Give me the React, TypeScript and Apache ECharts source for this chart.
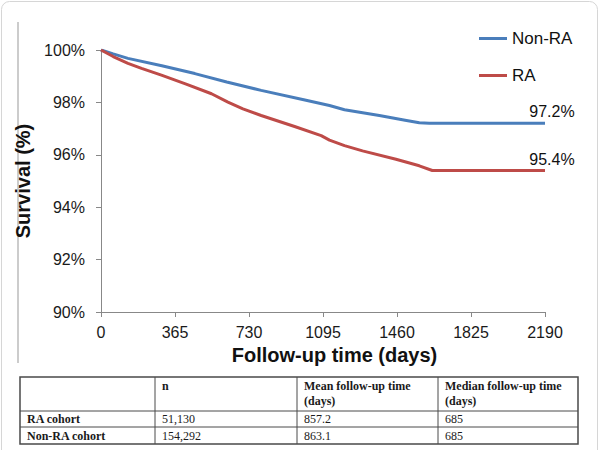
import { useEffect, useRef } from "react";
import * as echarts from "echarts";

// ---- data ----
const xTicks = [0, 365, 730, 1095, 1460, 1825, 2190];
const yRange = [90, 100];
const nonRaDays = [0, 60, 133, 300, 463, 620, 790, 1000, 1127, 1201, 1373, 1500, 1570, 1619, 2190];
const nonRaSurvival = [100, 99.85, 99.68, 99.4, 99.1, 98.78, 98.46, 98.1, 97.88, 97.72, 97.5, 97.32, 97.22, 97.2, 97.2];
const raDays = [0, 60, 133, 200, 298, 420, 545, 626, 700, 790, 955, 1086, 1127, 1201, 1290, 1455, 1570, 1634, 2190];
const raSurvival = [100, 99.75, 99.49, 99.3, 99.04, 98.7, 98.33, 98.01, 97.75, 97.5, 97.08, 96.73, 96.56, 96.35, 96.15, 95.83, 95.58, 95.4, 95.4];

const tableHeader = ["", "n", "Mean follow-up time\n(days)", "Median follow-up time\n(days)"];
const tableRowLabels = ["RA cohort", "Non-RA cohort"];
const tableN = ["51,130", "154,292"];
const tableMean = ["857.2", "863.1"];
const tableMedian = ["685", "685"];

// ---- layout ----
const GRID = { left: 101, top: 50, width: 444, height: 262 };
const colX = [20, 155, 297, 438, 578];
const rowY = [377, 411, 427, 444];
const SANS = "'Liberation Sans', Arial, sans-serif";
const SERIF = "'Liberation Serif', 'Times New Roman', serif";

function buildTable(): any[] {
  const els: any[] = [];
  const stroke = "#4a4a4a";
  els.push({
    type: "rect",
    shape: { x: colX[0], y: rowY[0], width: colX[4] - colX[0], height: rowY[3] - rowY[0] },
    style: { fill: "#fff", stroke, lineWidth: 1.5 },
  });
  for (let i = 1; i < colX.length - 1; i++) {
    els.push({ type: "line", shape: { x1: colX[i], y1: rowY[0], x2: colX[i], y2: rowY[3] }, style: { stroke, lineWidth: 1 } });
  }
  for (let j = 1; j < rowY.length - 1; j++) {
    els.push({ type: "line", shape: { x1: colX[0], y1: rowY[j], x2: colX[4], y2: rowY[j] }, style: { stroke, lineWidth: 1 } });
  }
  tableHeader.forEach((h, i) => {
    if (!h) return;
    els.push({
      type: "text",
      x: colX[i] + 7,
      y: rowY[0] + 1,
      style: { text: h, font: `bold 12px ${SERIF}`, fill: "#1a1a1a", verticalAlign: "top", lineHeight: 15 },
    });
  });
  const cols = [tableRowLabels, tableN, tableMean, tableMedian];
  for (let r = 0; r < tableRowLabels.length; r++) {
    const yc = (rowY[r + 1] + rowY[r + 2]) / 2;
    cols.forEach((col, c) => {
      els.push({
        type: "text",
        x: colX[c] + 7,
        y: yc,
        style: {
          text: col[r],
          font: `${c === 0 ? "bold " : ""}12px ${SERIF}`,
          fill: "#1a1a1a",
          verticalAlign: "middle",
        },
      });
    });
  }
  return els;
}

function endLabel(days: number[], vals: number[]) {
  const last = vals.length - 1;
  return {
    symbol: "circle",
    symbolSize: 1,
    itemStyle: { color: "rgba(0,0,0,0)" },
    label: {
      show: true,
      position: "top",
      formatter: "{c}%",
      fontSize: 16,
      fontFamily: SANS,
      color: "#111",
      offset: [7, 2],
    },
    data: [{ coord: [days[last], vals[last]], value: vals[last] }],
  };
}

export default function App() {
  const ref = useRef<HTMLDivElement>(null);
  useEffect(() => {
    if (!ref.current) return;
    const chart = echarts.init(ref.current, null, { renderer: "svg" });
    chart.setOption({
      animation: false,
      backgroundColor: "#fff",
      grid: { ...GRID },
      legend: {
        orient: "vertical",
        left: 474,
        top: 25,
        itemWidth: 28,
        itemHeight: 3,
        itemGap: 20,
        icon: "rect",
        textStyle: { fontSize: 17, fontFamily: SANS, color: "#111" },
        data: ["Non-RA", "RA"],
      },
      xAxis: {
        type: "value",
        min: xTicks[0],
        max: xTicks[xTicks.length - 1],
        interval: xTicks[1] - xTicks[0],
        name: "Follow-up time (days)",
        nameLocation: "middle",
        nameGap: 32,
        nameTextStyle: { fontSize: 20, fontWeight: "bold", fontFamily: SANS, color: "#111", padding: [0, 0, 0, 23] },
        axisLine: { show: true, lineStyle: { color: "#888", width: 1 } },
        axisTick: { show: true, length: 5, lineStyle: { color: "#888" } },
        axisLabel: {
          fontSize: 16,
          fontFamily: SANS,
          color: "#1a1a1a",
          margin: 12,
          formatter: (v: number) => String(v),
        },
        splitLine: { show: false },
      },
      yAxis: {
        type: "value",
        min: yRange[0],
        max: yRange[1],
        interval: 2,
        name: "Survival (%)",
        nameLocation: "middle",
        nameRotate: 90,
        nameGap: 57,
        nameTextStyle: { fontSize: 20, fontWeight: "bold", fontFamily: SANS, color: "#111" },
        axisLine: { show: true, lineStyle: { color: "#888", width: 1 } },
        axisTick: { show: true, length: 5, lineStyle: { color: "#888" } },
        axisLabel: { fontSize: 16, fontFamily: SANS, color: "#1a1a1a", margin: 16, formatter: "{value}%" },
        splitLine: { show: false },
      },
      series: [
        {
          name: "Non-RA",
          type: "line",
          data: nonRaDays.map((d, i) => [d, nonRaSurvival[i]]),
          showSymbol: false,
          symbol: "none",
          color: "#4a7ebb",
          lineStyle: { width: 3, color: "#4a7ebb" },
          markPoint: endLabel(nonRaDays, nonRaSurvival),
        },
        {
          name: "RA",
          type: "line",
          data: raDays.map((d, i) => [d, raSurvival[i]]),
          showSymbol: false,
          symbol: "none",
          color: "#be4b48",
          lineStyle: { width: 3, color: "#be4b48" },
          markPoint: endLabel(raDays, raSurvival),
        },
      ],
      graphic: [
        {
          type: "rect",
          z: -10,
          shape: { x: 1.5, y: 1.5, width: 596, height: 480, r: 8 },
          style: { fill: "none", stroke: "#d6d6d6", lineWidth: 1 },
        },
        {
          type: "line",
          z: -10,
          shape: { x1: 18, y1: 22, x2: 18, y2: 363 },
          style: { stroke: "#cccccc", lineWidth: 2 },
        },
        ...buildTable(),
      ],
    });
    return () => chart.dispose();
  }, []);
  return <div ref={ref} style={{ position: "absolute", left: 0, top: 0, width: 600, height: 450 }} />;
}
